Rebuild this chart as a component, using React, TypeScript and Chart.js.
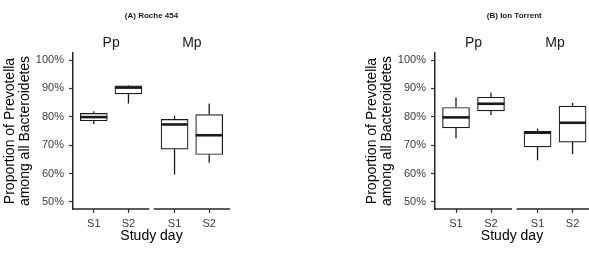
import React, { useEffect, useRef } from "react";
import { Chart, registerables } from "chart.js";
Chart.register(...registerables);

const FACETS = ["Pp", "Mp"];
const DAYS = ["S1", "S2"];
const Y_TICKS = [50, 60, 70, 80, 90, 100];
const Y_TITLE = ["Proportion of Prevotella", "among all Bacteroidetes"];
const X_TITLE = "Study day";

// order: Pp S1, Pp S2, Mp S1, Mp S2
const rocheMin = [77.5, 84.7, 59.7, 63.8];
const rocheQ1 = [78.6, 88.1, 68.6, 66.7];
const rocheMedian = [79.9, 90.3, 77.3, 73.5];
const rocheQ3 = [81.2, 90.9, 79.1, 80.8];
const rocheMax = [82.0, 91.0, 80.4, 84.7];

const ionMin = [72.4, 80.6, 64.7, 66.8];
const ionQ1 = [76.1, 82.1, 69.4, 71.1];
const ionMedian = [79.8, 84.6, 74.4, 77.9];
const ionQ3 = [83.3, 86.9, 74.9, 83.8];
const ionMax = [86.8, 88.5, 75.9, 84.9];

const FONT = "'Liberation Sans', Arial, Helvetica, sans-serif";
const FACET_W = 2.2;
const GAP = 0.13;

type Panel = {
  title: string;
  min: number[];
  q1: number[];
  med: number[];
  q3: number[];
  max: number[];
  padLeft: number;
  padRight: number;
  xMax: number;
  width: number;
  left: number;
};

function positions() {
  const xs: number[] = [];
  const labels: string[] = [];
  FACETS.forEach((_, f) => {
    DAYS.forEach((d, i) => {
      xs.push(f * (FACET_W + GAP) + 0.6 + i);
      labels.push(d);
    });
  });
  return { xs, labels };
}

function makeConfig(p: Panel): any {
  const { xs, labels } = positions();
  const boxes = xs.map((x, i) => ({ x, y: [p.q1[i], p.q3[i]] }));
  const plugin = {
    id: "boxParts",
    afterDatasetsDraw(chart: any) {
      const { ctx, chartArea } = chart;
      const x = chart.scales.x;
      const y = chart.scales.y;
      const meta = chart.getDatasetMeta(0);
      ctx.save();
      // whiskers
      ctx.strokeStyle = "#1a1a1a";
      ctx.lineWidth = 1.3;
      xs.forEach((xv, i) => {
        const px = x.getPixelForValue(xv);
        ctx.beginPath();
        ctx.moveTo(px, y.getPixelForValue(p.q3[i]));
        ctx.lineTo(px, y.getPixelForValue(p.max[i]));
        ctx.moveTo(px, y.getPixelForValue(p.q1[i]));
        ctx.lineTo(px, y.getPixelForValue(p.min[i]));
        ctx.stroke();
      });
      // medians
      ctx.lineWidth = 2.6;
      xs.forEach((xv, i) => {
        const el = meta.data[i];
        const half = el.width / 2;
        const px = x.getPixelForValue(xv);
        const py = y.getPixelForValue(p.med[i]);
        ctx.beginPath();
        ctx.moveTo(px - half, py);
        ctx.lineTo(px + half, py);
        ctx.stroke();
      });
      // facet x-axis lines
      ctx.lineWidth = 1.5;
      ctx.strokeStyle = "#262626";
      FACETS.forEach((name, f) => {
        const s = f * (FACET_W + GAP);
        const e = s + FACET_W;
        const x0 = x.getPixelForValue(s);
        const x1 = x.getPixelForValue(e);
        ctx.beginPath();
        ctx.moveTo(x0 - (f === 0 ? 0.75 : 0), chartArea.bottom);
        ctx.lineTo(x1, chartArea.bottom);
        ctx.stroke();
        // strip labels
        ctx.fillStyle = "#1a1a1a";
        ctx.font = `14px ${FONT}`;
        ctx.textAlign = "center";
        ctx.textBaseline = "alphabetic";
        ctx.fillText(name, (x0 + x1) / 2, 46.7);
      });
      // panel title
      const full0 = x.getPixelForValue(0);
      const full1 = x.getPixelForValue(2 * FACET_W + GAP);
      ctx.fillStyle = "#1a1a1a";
      ctx.font = `bold 8px ${FONT}`;
      ctx.textAlign = "center";
      ctx.textBaseline = "middle";
      ctx.fillText(p.title, (full0 + full1) / 2, 15.5);
      ctx.restore();
    },
  };
  return {
    type: "bar",
    data: {
      datasets: [
        {
          data: boxes,
          backgroundColor: "#ffffff",
          borderColor: "#1a1a1a",
          borderWidth: 1.2,
          borderSkipped: false,
          barThickness: 27,
        },
      ],
    },
    options: {
      animation: false,
      responsive: false,
      maintainAspectRatio: false,
      devicePixelRatio: 1,
      layout: { padding: { left: p.padLeft, right: p.padRight, top: 53, bottom: 0 } },
      plugins: {
        legend: { display: false },
        tooltip: { enabled: false },
        title: { display: false },
      },
      scales: {
        x: {
          type: "linear",
          min: 0,
          max: p.xMax,
          offset: false,
          afterFit: (s: any) => {
            s.height = 46;
          },
          afterBuildTicks: (s: any) => {
            s.ticks = xs.map((v) => ({ value: v }));
          },
          ticks: {
            autoSkip: false,
            maxRotation: 0,
            padding: 4,
            color: "#3a3a3a",
            font: { family: FONT, size: 11, lineHeight: 1.2 },
            callback: (_v: any, i: number) => labels[i],
          },
          grid: {
            drawOnChartArea: false,
            drawTicks: true,
            tickLength: 4,
            tickColor: "#333333",
            tickWidth: 1.2,
            offset: false,
          },
          border: { display: false },
          title: {
            display: true,
            text: X_TITLE,
            color: "#000000",
            font: { family: FONT, size: 14, lineHeight: 1.2 },
            padding: { top: 0, bottom: 10 },
          },
        },
        y: {
          type: "linear",
          min: 47.5,
          max: 102.5,
          afterFit: (s: any) => {
            s.width = 73;
          },
          afterBuildTicks: (s: any) => {
            s.ticks = Y_TICKS.map((v) => ({ value: v }));
          },
          ticks: {
            padding: 5,
            color: "#3a3a3a",
            font: { family: FONT, size: 11 },
            callback: (v: any) => `${v}%`,
          },
          grid: {
            drawOnChartArea: false,
            drawTicks: true,
            tickLength: 4,
            tickColor: "#333333",
            tickWidth: 1.2,
          },
          border: { display: true, color: "#262626", width: 1.5 },
          title: {
            display: true,
            text: Y_TITLE,
            color: "#000000",
            font: { family: FONT, size: 14, lineHeight: 15 / 14 },
            padding: { top: 2.5, bottom: 0 },
          },
        },
      },
    },
    plugins: [plugin],
  };
}

const PANELS: Panel[] = [
  {
    title: "(A) Roche 454",
    min: rocheMin,
    q1: rocheQ1,
    med: rocheMedian,
    q3: rocheQ3,
    max: rocheMax,
    padLeft: 0,
    padRight: 65,
    xMax: 2 * FACET_W + GAP,
    width: 295,
    left: 0,
  },
  {
    title: "(B) Ion Torrent",
    min: ionMin,
    q1: ionQ1,
    med: ionMedian,
    q3: ionQ3,
    max: ionMax,
    padLeft: 67,
    padRight: 0,
    xMax: 4.4,
    width: 294,
    left: 295,
  },
];

function PanelChart({ panel }: { panel: Panel }) {
  const ref = useRef<HTMLCanvasElement | null>(null);
  useEffect(() => {
    if (!ref.current) return;
    const chart = new Chart(ref.current, makeConfig(panel));
    return () => chart.destroy();
  }, [panel]);
  return (
    <canvas
      ref={ref}
      width={panel.width}
      height={255}
      style={{ position: "absolute", left: panel.left, top: 0, width: panel.width, height: 255 }}
    />
  );
}

export default function App() {
  return (
    <div
      style={{
        position: "fixed",
        left: 0,
        top: 0,
        width: 589,
        height: 255,
        background: "#ffffff",
        overflow: "hidden",
      }}
    >
      {PANELS.map((p) => (
        <PanelChart key={p.title} panel={p} />
      ))}
    </div>
  );
}
